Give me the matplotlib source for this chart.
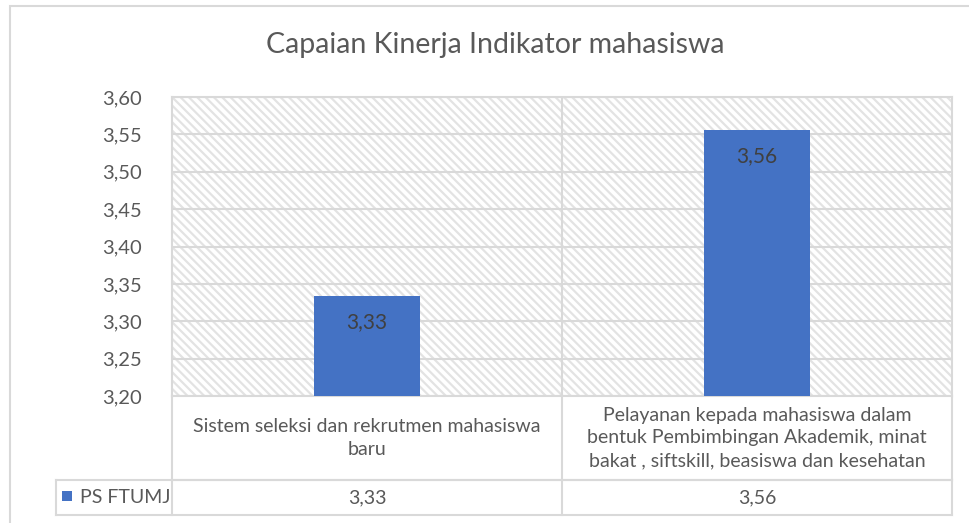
import matplotlib
matplotlib.use("Agg")
import matplotlib.pyplot as plt
from matplotlib.patches import Rectangle
from matplotlib.lines import Line2D

# Data
categories = [
    "Sistem seleksi dan rekrutmen mahasiswa\nbaru",
    "Pelayanan kepada mahasiswa dalam\nbentuk Pembimbingan Akademik, minat\nbakat , siftskill, beasiswa dan kesehatan",
]
values = [3.334, 3.556]
value_labels = ["3,33", "3,56"]
series_name = "PS FTUMJ"
yticks = [3.20, 3.25, 3.30, 3.35, 3.40, 3.45, 3.50, 3.55, 3.60]

BLUE = "#4472C4"
GRID = "#d9d9d9"
TEXT = "#595959"

plt.rcParams["font.family"] = ["Lato", "DejaVu Sans"]
plt.rcParams["hatch.linewidth"] = 1.6
plt.rcParams["hatch.color"] = "#e3e3e3"

W, H = 970, 523
fig = plt.figure(figsize=(9.7, 5.23), dpi=100)


def fx(px):
    return px / W


def fy(py):
    return 1 - py / H


# outer chart border (cropped on right / bottom)
fig.patches.append(Rectangle((fx(10), fy(530)), fx(980) - fx(10), fy(6) - fy(530),
                             transform=fig.transFigure, fill=False,
                             edgecolor=GRID, linewidth=1.5))

left, right, top, bottom = 172, 952, 97, 396
ax = fig.add_axes([fx(left), fy(bottom), fx(right) - fx(left), fy(top) - fy(bottom)])

# hatched plot area
ax.add_patch(Rectangle((0, 0), 1, 1, transform=ax.transAxes, facecolor="white",
                       hatch="\\\\\\\\", edgecolor="#e3e3e3", linewidth=0, zorder=0))

x = list(range(len(values)))
ax.bar(x, [v - yticks[0] for v in values], bottom=yticks[0], width=0.27,
       color=BLUE, zorder=3)
for xi, v, lab in zip(x, values, value_labels):
    ax.text(xi, v - 0.035, lab, ha="center", va="center", fontsize=15,
            color="#404040", zorder=4)

ax.set_xlim(-0.5, len(values) - 0.5)
ax.set_ylim(yticks[0], yticks[-1])
ax.set_yticks(yticks)
ax.set_yticklabels([f"{t:.2f}".replace(".", ",") for t in yticks],
                   fontsize=14.5, color=TEXT)
ax.tick_params(axis="y", length=0, pad=22)
ax.set_xticks([])
ax.grid(axis="y", color=GRID, linewidth=1.5, zorder=1)
for i in range(1, len(values)):
    ax.axvline(i - 0.5, color=GRID, linewidth=1.5, zorder=1)
for s in ax.spines.values():
    s.set_color(GRID)
    s.set_linewidth(1.5)

fig.text(fx(495), fy(45), "Capaian Kinerja Indikator mahasiswa", fontsize=20.5,
         color=TEXT, ha="center", va="center")

# data table below the plot
row1, row2, tab_left = 480, 515, 56
lines = [
    ((left, right), (row1, row1)),
    ((tab_left, right), (row1, row1)),
    ((tab_left, right), (row2, row2)),
    ((tab_left, tab_left), (row1, row2)),
    ((left, left), (bottom, row2)),
    ((right, right), (bottom, row2)),
]
for i in range(1, len(values)):
    xm = left + (right - left) * i / len(values)
    lines.append(((xm, xm), (bottom, row2)))
for xs, ys in lines:
    fig.add_artist(Line2D([fx(v) for v in xs], [fy(v) for v in ys],
                          color=GRID, linewidth=1.5))

cell_w = (right - left) / len(values)
for i, (cat, lab) in enumerate(zip(categories, value_labels)):
    cx = left + cell_w * (i + 0.5)
    fig.text(fx(cx), fy((bottom + row1) / 2), cat, ha="center", va="center",
             fontsize=14, color=TEXT, linespacing=1.4)
    fig.text(fx(cx), fy((row1 + row2) / 2), lab, ha="center", va="center",
             fontsize=14, color=TEXT)

fig.patches.append(Rectangle((fx(62), fy(501)), fx(72) - fx(62), fy(491) - fy(501),
                             transform=fig.transFigure, facecolor=BLUE,
                             edgecolor="none"))
fig.text(fx(80), fy((row1 + row2) / 2), series_name, ha="left", va="center",
         fontsize=14, color=TEXT)

fig.savefig("out.png", dpi=100)
